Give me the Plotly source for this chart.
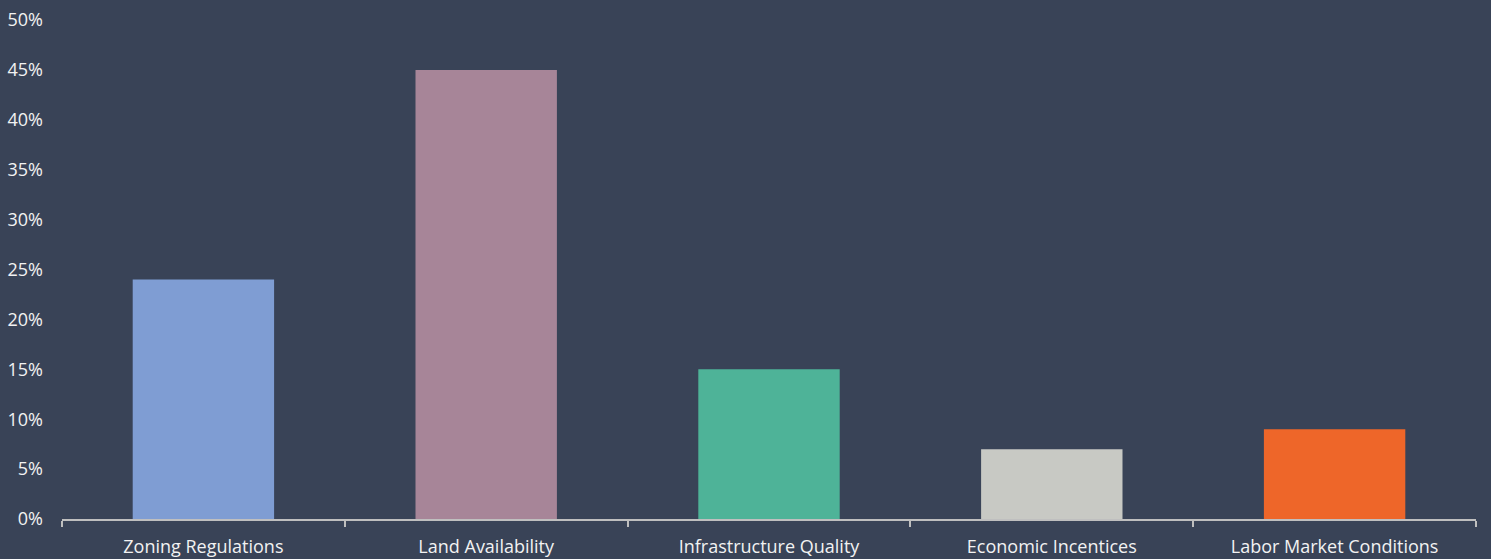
import plotly.graph_objects as go

categories = ["Zoning Regulations", "Land Availability", "Infrastructure Quality",
              "Economic Incentices", "Labor Market Conditions"]
values = [24, 45, 15, 7, 9]
colors = ["#7f9dd3", "#a78598", "#4eb398", "#c8c9c4", "#ee6629"]
y_ticks = [0, 5, 10, 15, 20, 25, 30, 35, 40, 45, 50]
y_tick_labels = [f"{v}%" for v in y_ticks]

bg = "#394357"
fig = go.Figure(go.Bar(x=categories, y=values, marker=dict(color=colors, line=dict(width=0)),
                       width=0.5, hoverinfo="x+y"))
fig.update_layout(
    width=1491, height=559,
    paper_bgcolor=bg, plot_bgcolor=bg,
    margin=dict(l=62, r=15, t=20, b=40, autoexpand=False),
    font=dict(family="Open Sans", size=18, color="#f2f2f2"),
    showlegend=False,
)
fig.update_xaxes(showline=True, linecolor="#bfbfbf", linewidth=1.5,
                 ticks="outside", tickson="boundaries", ticklen=6, tickcolor="#bfbfbf",
                 tickwidth=1.5, showgrid=False, ticklabelstandoff=11, automargin=False,
                 tickfont=dict(size=18, color="#f2f2f2"))
fig.update_yaxes(range=[0, 50], tickvals=y_ticks, ticktext=y_tick_labels,
                 showgrid=False, zeroline=False, showline=False, automargin=False,
                 ticklabelstandoff=18, tickfont=dict(size=18, color="#f2f2f2"))
fig.write_html("out.html", config={"displayModeBar": False},
               post_script="document.body.style.margin='0';document.body.style.background='" + bg + "';")
